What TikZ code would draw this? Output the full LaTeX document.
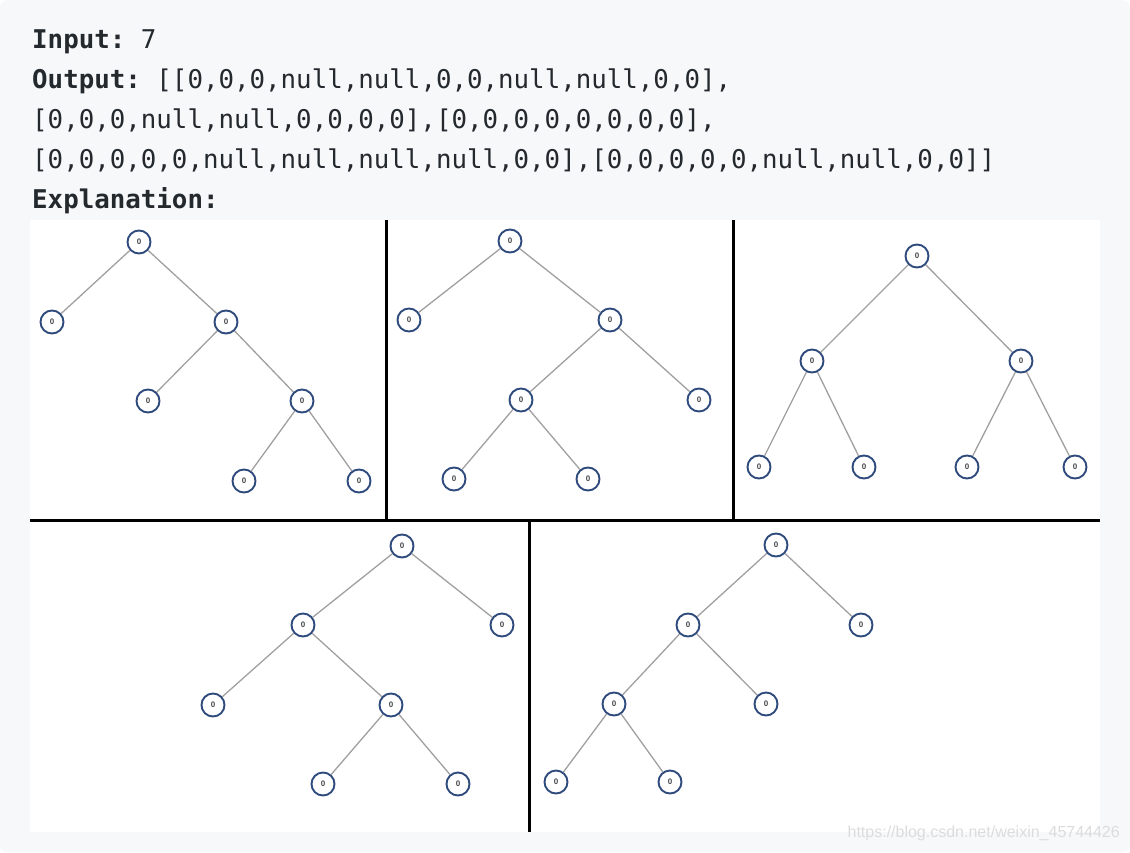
\documentclass[tikz,border=0pt]{standalone}
\usepackage{fontspec}
\setmonofont{DejaVu Sans Mono}
\setsansfont{Liberation Sans}
\definecolor{panelbg}{HTML}{F6F8FA}
\definecolor{txt}{HTML}{24292E}
\definecolor{nodeblue}{HTML}{2F4A7C}
\definecolor{edgegray}{HTML}{A0A0A0}
\definecolor{wm}{HTML}{DCDCDC}
\tikzset{
  tn/.style={circle, draw=nodeblue, line width=1.9pt, fill=white, minimum size=23pt, inner sep=0pt,
    font=\fontsize{8}{8}\selectfont\sffamily\bfseries, text=txt!85},
  ed/.style={draw=edgegray, line width=1.3pt},
  sep/.style={draw=black, line width=3pt},
  codeline/.style={anchor=base west, inner sep=0pt, text=txt, font=\fontsize{25.8}{26}\selectfont\ttfamily},
}
\begin{document}
\begin{tikzpicture}[x=1pt,y=-1pt]
\useasboundingbox (0,0) rectangle (1130,852);
\fill[panelbg, rounded corners=7pt] (0,0) rectangle (1130,852);
\fill[white] (30,220) rectangle (1100,832);
% text
\node[codeline] (l1) at (32,48) {\textbf{Input:} 7};
\node[codeline] (l2) at (32,88) {\textbf{Output:} [[0,0,0,null,null,0,0,null,null,0,0],};
\node[codeline] (l3) at (32,128) {[0,0,0,null,null,0,0,0,0],[0,0,0,0,0,0,0,0],};
\node[codeline] (l4) at (32,168) {[0,0,0,0,0,null,null,null,null,0,0],[0,0,0,0,0,null,null,0,0]]};
\node[codeline] (l5) at (32,208) {\textbf{Explanation:}};
% separators
\coordinate (v1t) at (386,220); \coordinate (v1b) at (386,520);
\coordinate (v2t) at (733,220); \coordinate (v2b) at (733,520);
\coordinate (hl) at (30,520); \coordinate (hr) at (1100,520);
\coordinate (v3t) at (529,520); \coordinate (v3b) at (529,832);
\draw[sep] (v1t) -- (v1b);
\draw[sep] (v2t) -- (v2b);
\draw[sep] (hl) -- (hr);
\draw[sep] (v3t) -- (v3b);
% panel 1
\node[tn] (a0) at (139,242) {0};
\node[tn] (a1) at (52,322) {0};
\node[tn] (a2) at (226,322) {0};
\node[tn] (a3) at (148,401) {0};
\node[tn] (a4) at (302,401) {0};
\node[tn] (a5) at (244,481) {0};
\node[tn] (a6) at (359,481) {0};
% panel 2
\node[tn] (b0) at (510,241) {0};
\node[tn] (b1) at (409,320) {0};
\node[tn] (b2) at (610,320) {0};
\node[tn] (b3) at (521,400) {0};
\node[tn] (b4) at (699,400) {0};
\node[tn] (b5) at (454,479) {0};
\node[tn] (b6) at (588,479) {0};
% panel 3
\node[tn] (c0) at (917,256) {0};
\node[tn] (c1) at (812,361) {0};
\node[tn] (c2) at (1021,361) {0};
\node[tn] (c3) at (759,467) {0};
\node[tn] (c4) at (864,467) {0};
\node[tn] (c5) at (967,467) {0};
\node[tn] (c6) at (1075,467) {0};
% panel 4
\node[tn] (d0) at (402,546) {0};
\node[tn] (d1) at (303,625) {0};
\node[tn] (d2) at (502,625) {0};
\node[tn] (d3) at (213,705) {0};
\node[tn] (d4) at (391,705) {0};
\node[tn] (d5) at (323,784) {0};
\node[tn] (d6) at (458,784) {0};
% panel 5
\node[tn] (e0) at (776,545) {0};
\node[tn] (e1) at (688,625) {0};
\node[tn] (e2) at (861,625) {0};
\node[tn] (e3) at (614,704) {0};
\node[tn] (e4) at (766,704) {0};
\node[tn] (e5) at (556,782) {0};
\node[tn] (e6) at (670,782) {0};
% edges
\draw[ed] (a0) -- (a1); \draw[ed] (a0) -- (a2); \draw[ed] (a2) -- (a3); \draw[ed] (a2) -- (a4);
\draw[ed] (a4) -- (a5); \draw[ed] (a4) -- (a6);
\draw[ed] (b0) -- (b1); \draw[ed] (b0) -- (b2); \draw[ed] (b2) -- (b3); \draw[ed] (b2) -- (b4);
\draw[ed] (b3) -- (b5); \draw[ed] (b3) -- (b6);
\draw[ed] (c0) -- (c1); \draw[ed] (c0) -- (c2); \draw[ed] (c1) -- (c3); \draw[ed] (c1) -- (c4);
\draw[ed] (c2) -- (c5); \draw[ed] (c2) -- (c6);
\draw[ed] (d0) -- (d1); \draw[ed] (d0) -- (d2); \draw[ed] (d1) -- (d3); \draw[ed] (d1) -- (d4);
\draw[ed] (d4) -- (d5); \draw[ed] (d4) -- (d6);
\draw[ed] (e0) -- (e1); \draw[ed] (e0) -- (e2); \draw[ed] (e1) -- (e3); \draw[ed] (e1) -- (e4);
\draw[ed] (e3) -- (e5); \draw[ed] (e3) -- (e6);
% watermark
\node[anchor=east, inner sep=0pt, text=wm, font=\fontsize{16}{16}\selectfont\sffamily] (wmk) at (1120,833) {https://blog.csdn.net/weixin\_45744426};
\end{tikzpicture}
\end{document}
